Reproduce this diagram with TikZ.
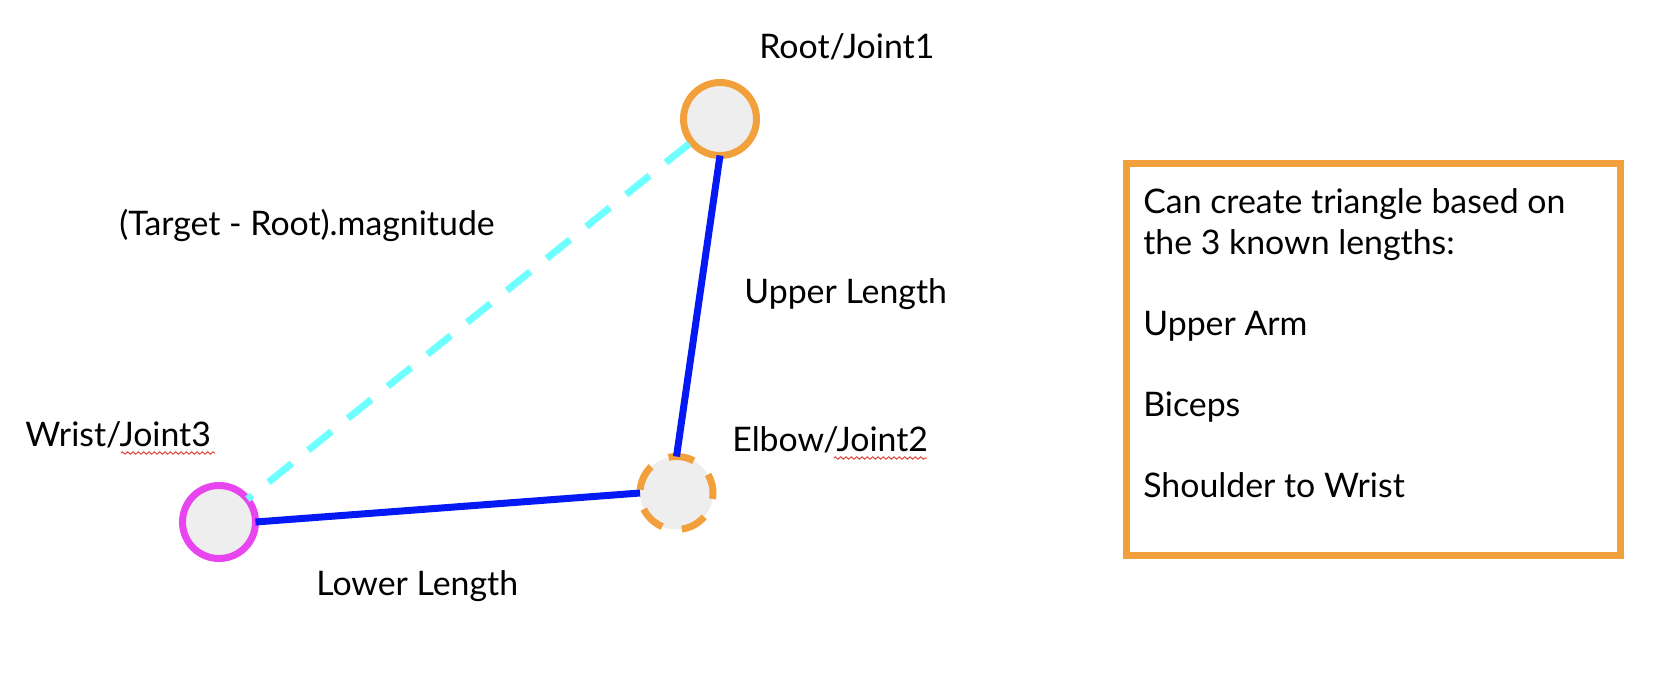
\documentclass[tikz,border=0pt]{standalone}
\usepackage{fontspec}
\setmainfont{Lato}
\usetikzlibrary{decorations.pathmorphing}
\definecolor{orng}{RGB}{242,160,60}
\definecolor{cyn}{RGB}{112,255,255}
\definecolor{blu}{RGB}{5,25,245}
\definecolor{mag}{RGB}{232,68,240}
\definecolor{jointfill}{RGB}{238,238,238}
\definecolor{squig}{RGB}{225,70,60}
\begin{document}
\begin{tikzpicture}[x=0.6pt,y=-0.6pt,
  joint/.style={circle,minimum size=43.8pt,inner sep=0pt,outer sep=0pt,line width=4.2pt,fill=jointfill},
  lbl/.style={inner sep=0pt,anchor=base west,font=\fontsize{20.3pt}{24.3pt}\selectfont},
  arm/.style={blu,line width=4.2pt},
  reach/.style={cyn,line width=4.2pt,dash pattern=on 18pt off 12.6pt,dash phase=14.4pt},
  spell/.style={squig,line width=0.6pt,decorate,decoration={zigzag,segment length=3.2pt,amplitude=0.7pt}}]
\useasboundingbox (0,0) rectangle (1664,672);
% joints
\node[joint,draw=orng] (root) at (720,119) {};
\node[joint,draw=orng,dash pattern=on 15.6pt off 12pt,dash phase=4pt] (elbow) at (676.5,493) {};
\node[joint,draw=mag] (wrist) at (219,522) {};
% connectors
\draw[arm] (root.south) -- (elbow.north);
\draw[arm] (wrist.east) -- (elbow.west);
\draw[reach] (wrist) -- (root);
% labels
\node[lbl] (lroot) at (759,58) {Root/Joint1};
\node[lbl] (lmag) at (119,235) {(Target - Root).magnitude};
\node[lbl] (lup) at (744,303) {Upper Length};
\node[lbl] (lelb) at (732,451) {Elbow/Joint2};
\node[lbl] (lwri) at (25,446) {Wrist/Joint3};
\node[lbl] (llow) at (316,595) {Lower Length};
% spell-check squiggles
\draw[spell] (121,453) -- (215,453);
\draw[spell] (834,458) -- (927,458);
% info box
\draw[orng,line width=4.2pt] (1126.5,163.5) rectangle (1620.5,555.5);
\node[lbl,align=left] (info) at (1143,497) {Can create triangle based on\\the 3 known lengths:\\[24.3pt]Upper Arm\\[24.3pt]Biceps\\[24.3pt]Shoulder to Wrist};
\end{tikzpicture}
\end{document}
